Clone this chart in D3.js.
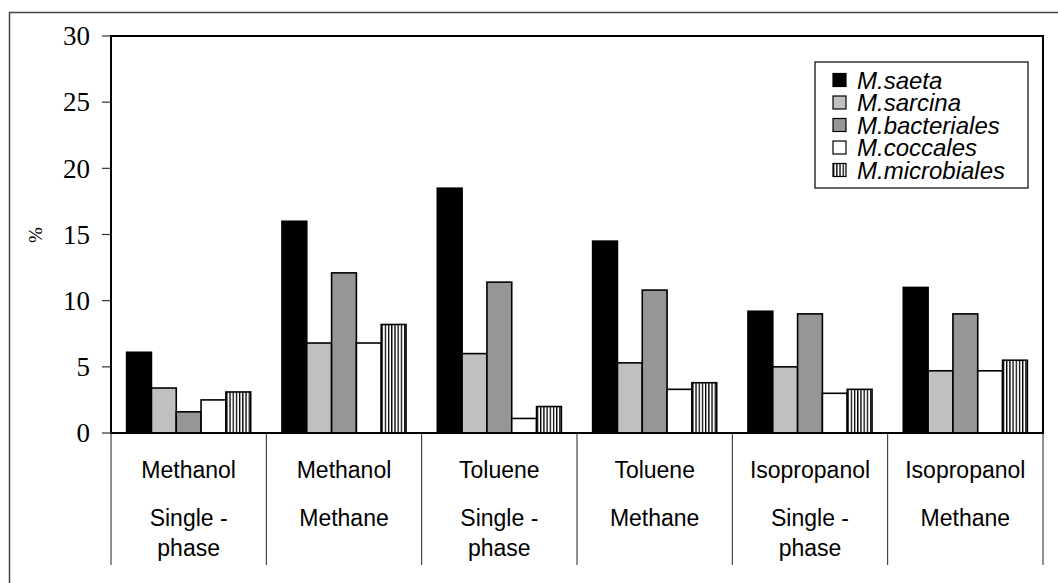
<!DOCTYPE html>
<html>
<head>
<meta charset="utf-8">
<script src="https://cdn.jsdelivr.net/npm/d3@7"></script>
<style>
  body { margin: 0; background: #fff; }
  svg { display: block; }
</style>
</head>
<body>
<div id="chart"></div>
<script>
// data
const categories = [
  ["Methanol", "Single -", "phase"],
  ["Methanol", "Methane"],
  ["Toluene", "Single -", "phase"],
  ["Toluene", "Methane"],
  ["Isopropanol", "Single -", "phase"],
  ["Isopropanol", "Methane"]
];
const seriesNames = ["M.saeta", "M.sarcina", "M.bacteriales", "M.coccales", "M.microbiales"];
const saeta = [6.1, 16.0, 18.5, 14.5, 9.2, 11.0];
const sarcina = [3.4, 6.8, 6.0, 5.3, 5.0, 4.7];
const bacteriales = [1.6, 12.1, 11.4, 10.8, 9.0, 9.0];
const coccales = [2.5, 6.8, 1.1, 3.3, 3.0, 4.7];
const microbiales = [3.1, 8.2, 2.0, 3.8, 3.3, 5.5];
const yTicks = [0, 5, 10, 15, 20, 25, 30];

const seriesValues = [saeta, sarcina, bacteriales, coccales, microbiales];
const fills = ["#000000", "#c0c0c0", "#969696", "#ffffff", "url(#stripes)"];

const W = 1058, H = 583;
const margin = {top: 36, right: 15, bottom: 150, left: 111};
const plotW = 1043 - margin.left;
const plotH = 433 - margin.top;

const svg = d3.select("#chart").append("svg")
    .attr("width", W)
    .attr("height", H);

// vertical stripe pattern for microbiales
const pat = svg.append("defs").append("pattern")
    .attr("id", "stripes")
    .attr("patternUnits", "userSpaceOnUse")
    .attr("width", 3.2)
    .attr("height", 10);
pat.append("rect").attr("width", 3.2).attr("height", 10).attr("fill", "#fff");
pat.append("rect").attr("width", 1.3).attr("height", 10).attr("fill", "#000");

// outer frame
svg.append("rect")
    .attr("x", 9.5).attr("y", 12.5)
    .attr("width", 1100).attr("height", 600)
    .attr("fill", "none")
    .attr("stroke", "#444")
    .attr("stroke-width", 1.5);

const g = svg.append("g")
    .attr("transform", `translate(${margin.left},${margin.top})`);

const x0 = d3.scaleBand()
    .domain(d3.range(categories.length))
    .range([0, plotW])
    .paddingInner(0)
    .paddingOuter(0);

const x1 = d3.scaleBand()
    .domain(d3.range(seriesNames.length))
    .range([0, x0.bandwidth()])
    .paddingOuter(0.63)
    .paddingInner(0);

const y = d3.scaleLinear()
    .domain([0, 30])
    .range([plotH, 0]);

// plot area box
g.append("rect")
    .attr("x", 0).attr("y", 0)
    .attr("width", plotW).attr("height", plotH)
    .attr("fill", "none")
    .attr("stroke", "#000")
    .attr("stroke-width", 2);

// y axis ticks and labels
g.selectAll(".ytick")
    .data(yTicks)
    .join("line")
    .attr("class", "ytick")
    .attr("x1", -9).attr("x2", 0)
    .attr("y1", d => y(d)).attr("y2", d => y(d))
    .attr("stroke", "#333")
    .attr("stroke-width", 1.2);

g.selectAll(".ylabel")
    .data(yTicks)
    .join("text")
    .attr("class", "ylabel")
    .attr("x", -21)
    .attr("y", d => y(d))
    .attr("dy", "0.34em")
    .attr("text-anchor", "end")
    .style("font-family", "'Liberation Serif', 'Times New Roman', serif")
    .style("font-size", "27px")
    .text(d => d);

svg.append("text")
    .attr("transform", "translate(42,235) rotate(-90)")
    .attr("text-anchor", "middle")
    .style("font-family", "'Liberation Serif', 'Times New Roman', serif")
    .style("font-size", "19px")
    .text("%");

// bars
const groups = g.selectAll(".grp")
    .data(categories)
    .join("g")
    .attr("class", "grp")
    .attr("transform", (d, i) => `translate(${x0(i)},0)`);

groups.selectAll("rect")
    .data((d, i) => seriesValues.map((s, j) => ({series: j, value: s[i]})))
    .join("rect")
    .attr("x", d => x1(d.series))
    .attr("y", d => y(d.value))
    .attr("width", x1.bandwidth())
    .attr("height", d => plotH - y(d.value))
    .attr("fill", d => fills[d.series])
    .attr("stroke", "#000")
    .attr("stroke-width", 1.6);

// redraw bottom axis line over bars
g.append("line")
    .attr("x1", 0).attr("x2", plotW)
    .attr("y1", plotH).attr("y2", plotH)
    .attr("stroke", "#000")
    .attr("stroke-width", 2.2);

// category separators under the axis
g.selectAll(".sep")
    .data(d3.range(categories.length + 1))
    .join("line")
    .attr("class", "sep")
    .attr("x1", i => i * x0.bandwidth())
    .attr("x2", i => i * x0.bandwidth())
    .attr("y1", plotH)
    .attr("y2", plotH + 132)
    .attr("stroke", "#222")
    .attr("stroke-width", 1);

// category labels
const lineY = [45, 93, 123];
groups.each(function(lines) {
    d3.select(this).selectAll(".cat")
        .data(lines)
        .join("text")
        .attr("class", "cat")
        .attr("x", x0.bandwidth() / 2)
        .attr("y", (d, k) => plotH + lineY[k])
        .attr("text-anchor", "middle")
        .style("font-family", "'Liberation Sans', Arial, sans-serif")
        .style("font-size", "23px")
        .text(d => d);
});

// legend
const legend = svg.append("g").attr("transform", "translate(815,62)");
legend.append("rect")
    .attr("width", 213).attr("height", 126)
    .attr("fill", "#fff")
    .attr("stroke", "#000")
    .attr("stroke-width", 1.2);

const items = legend.selectAll(".item")
    .data(seriesNames)
    .join("g")
    .attr("class", "item")
    .attr("transform", (d, i) => `translate(18,${18 + i * 22.5})`);

items.append("rect")
    .attr("x", 0).attr("y", -6.5)
    .attr("width", 13).attr("height", 13)
    .attr("fill", (d, i) => fills[i])
    .attr("stroke", "#000")
    .attr("stroke-width", 1.2);

items.append("text")
    .attr("x", 24)
    .attr("y", 0)
    .attr("dy", "0.36em")
    .style("font-family", "'Liberation Sans', Arial, sans-serif")
    .style("font-style", "italic")
    .style("font-size", "24px")
    .text(d => d);
</script>
</body>
</html>
